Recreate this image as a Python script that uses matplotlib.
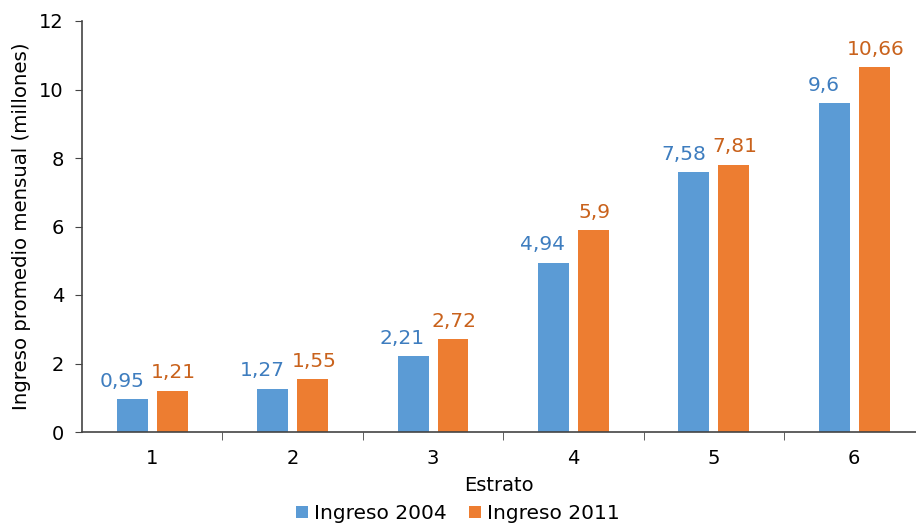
import matplotlib.pyplot as plt
import numpy as np

estratos = ["1", "2", "3", "4", "5", "6"]
ingreso_2004 = [0.95, 1.27, 2.21, 4.94, 7.58, 9.6]
ingreso_2011 = [1.21, 1.55, 2.72, 5.9, 7.81, 10.66]
etiquetas_2004 = ["0,95", "1,27", "2,21", "4,94", "7,58", "9,6"]
etiquetas_2011 = ["1,21", "1,55", "2,72", "5,9", "7,81", "10,66"]

plt.rcParams["font.family"] = ["DejaVu Sans"]

azul = "#5B9BD5"
naranja = "#ED7D31"

fig = plt.figure(figsize=(9.16, 5.23), dpi=100)
ax = fig.add_axes([82 / 916, 1 - 432 / 523, (916 - 82) / 916, (432 - 21) / 523])

x = np.arange(len(estratos))
w = 0.22
b1 = ax.bar(x - 0.142, ingreso_2004, w, color=azul, label="Ingreso 2004")
b2 = ax.bar(x + 0.142, ingreso_2011, w, color=naranja, label="Ingreso 2011")

# valores sobre cada barra
for rect, txt in zip(b1, etiquetas_2004):
    ax.annotate(txt, (rect.get_x() + rect.get_width() / 2 - 0.075, rect.get_height()),
                xytext=(0, 6), textcoords="offset points", ha="center", va="bottom",
                fontsize=14.5, color="#3E7DBF")
for rect, txt in zip(b2, etiquetas_2011):
    ax.annotate(txt, (rect.get_x() + rect.get_width() / 2 + 0.01, rect.get_height()),
                xytext=(0, 6), textcoords="offset points", ha="center", va="bottom",
                fontsize=14.5, color="#C9621C")

ax.set_xlim(-0.5, 5.44)
ax.set_ylim(0, 12)
ax.set_yticks(range(0, 13, 2))
ax.set_xticks(x)
ax.set_xticklabels(estratos)
ax.set_xticks(np.arange(0.5, 5.5, 1), minor=True)
ax.tick_params(axis="x", which="major", length=0, labelsize=14, pad=12)
ax.tick_params(axis="x", which="minor", length=6, color="#444444", direction="out")
ax.tick_params(axis="y", length=5, color="#444444", labelsize=14, pad=8)

for s in ["top", "right"]:
    ax.spines[s].set_visible(False)
for s in ["left", "bottom"]:
    ax.spines[s].set_color("#444444")
    ax.spines[s].set_linewidth(1.2)

ax.set_xlabel("Estrato", fontsize=14, labelpad=6)
ax.set_ylabel("Ingreso promedio mensual (millones)", fontsize=14.2, labelpad=6)

fig.legend(handles=[b1, b2], loc="lower center", bbox_to_anchor=(0.5, -0.035), ncol=2,
           frameon=False, fontsize=14.5, handlelength=0.6, handleheight=0.6,
           handletextpad=0.3, columnspacing=1.1)

fig.savefig("out.png", dpi=100)
